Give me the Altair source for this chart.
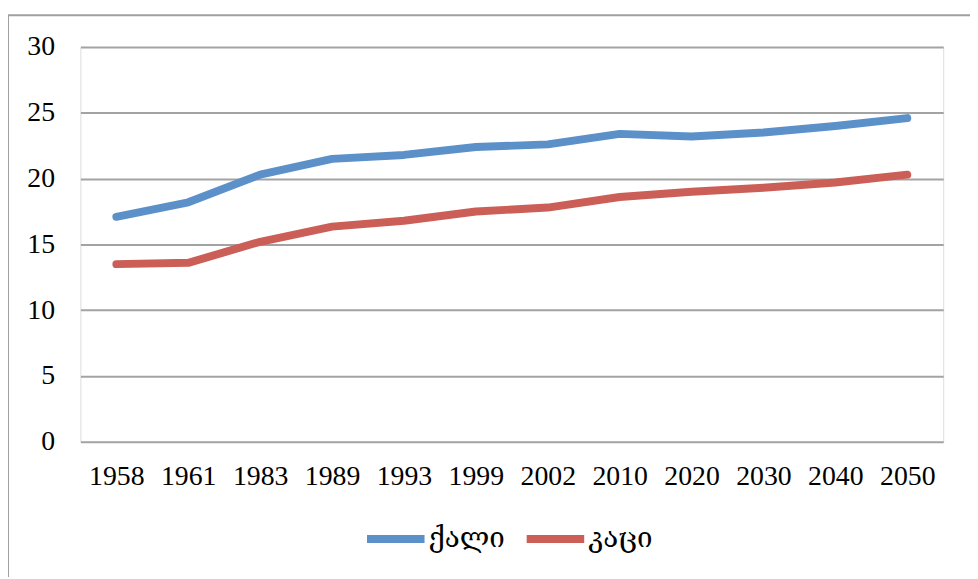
import altair as alt
import pandas as pd

years = ["1958", "1961", "1983", "1989", "1993", "1999", "2002", "2010", "2020", "2030", "2040", "2050"]
women = [17.1, 18.2, 20.3, 21.5, 21.8, 22.4, 22.6, 23.4, 23.2, 23.5, 24.0, 24.6]
men = [13.5, 13.6, 15.2, 16.35, 16.8, 17.5, 17.8, 18.6, 19.0, 19.3, 19.7, 20.3]
series_names = ["ქალი", "კაცი"]
colors = ["#5B90C9", "#CB5F57"]

rows = []
for name, vals in zip(series_names, [women, men]):
    for y, v in zip(years, vals):
        rows.append({"year": y, "value": v, "series": name})
df = pd.DataFrame(rows)

lines = alt.Chart(df).mark_line(strokeWidth=8, strokeCap="round", strokeJoin="round").encode(
    x=alt.X("year:O", sort=years, title=None,
            axis=alt.Axis(labelAngle=0, ticks=False, domain=False, labelPadding=21,
                          labelFont="Liberation Serif", labelFontSize=28, labelColor="#000")),
    y=alt.Y("value:Q", title=None, scale=alt.Scale(domain=[0, 30], nice=False),
            axis=alt.Axis(values=[0, 5, 10, 15, 20, 25, 30], ticks=False, domain=False,
                          labelPadding=26, gridColor="#A3A3A3", gridWidth=2,
                          labelFont="Liberation Serif", labelFontSize=28, labelColor="#000")),
    color=alt.Color("series:N", sort=series_names,
                    scale=alt.Scale(domain=series_names, range=colors),
                    legend=alt.Legend(title=None, orient="none", legendX=285, legendY=463,
                                      direction="horizontal", symbolType="stroke",
                                      symbolSize=3364, symbolStrokeWidth=8,
                                      labelFont="DejaVu Serif", labelFontSize=28,
                                      labelColor="#000", labelOffset=0, columnPadding=5)),
)

border = alt.Chart(pd.DataFrame({"k": [0]})).mark_rect(
    fill=None, stroke="#A0A0A0", strokeWidth=2
).encode(x=alt.value(-73), x2=alt.value(960), y=alt.value(-32), y2=alt.value(700))

chart = alt.layer(border, lines).properties(
    width=870, height=398,
    autosize=alt.AutoSizeParams(type="none"),
    padding={"left": 73, "top": 37, "right": 27, "bottom": 134},
).configure_view(stroke=None).configure(background="white")

chart.save("out.html", embed_options={"renderer": "svg", "actions": False})
